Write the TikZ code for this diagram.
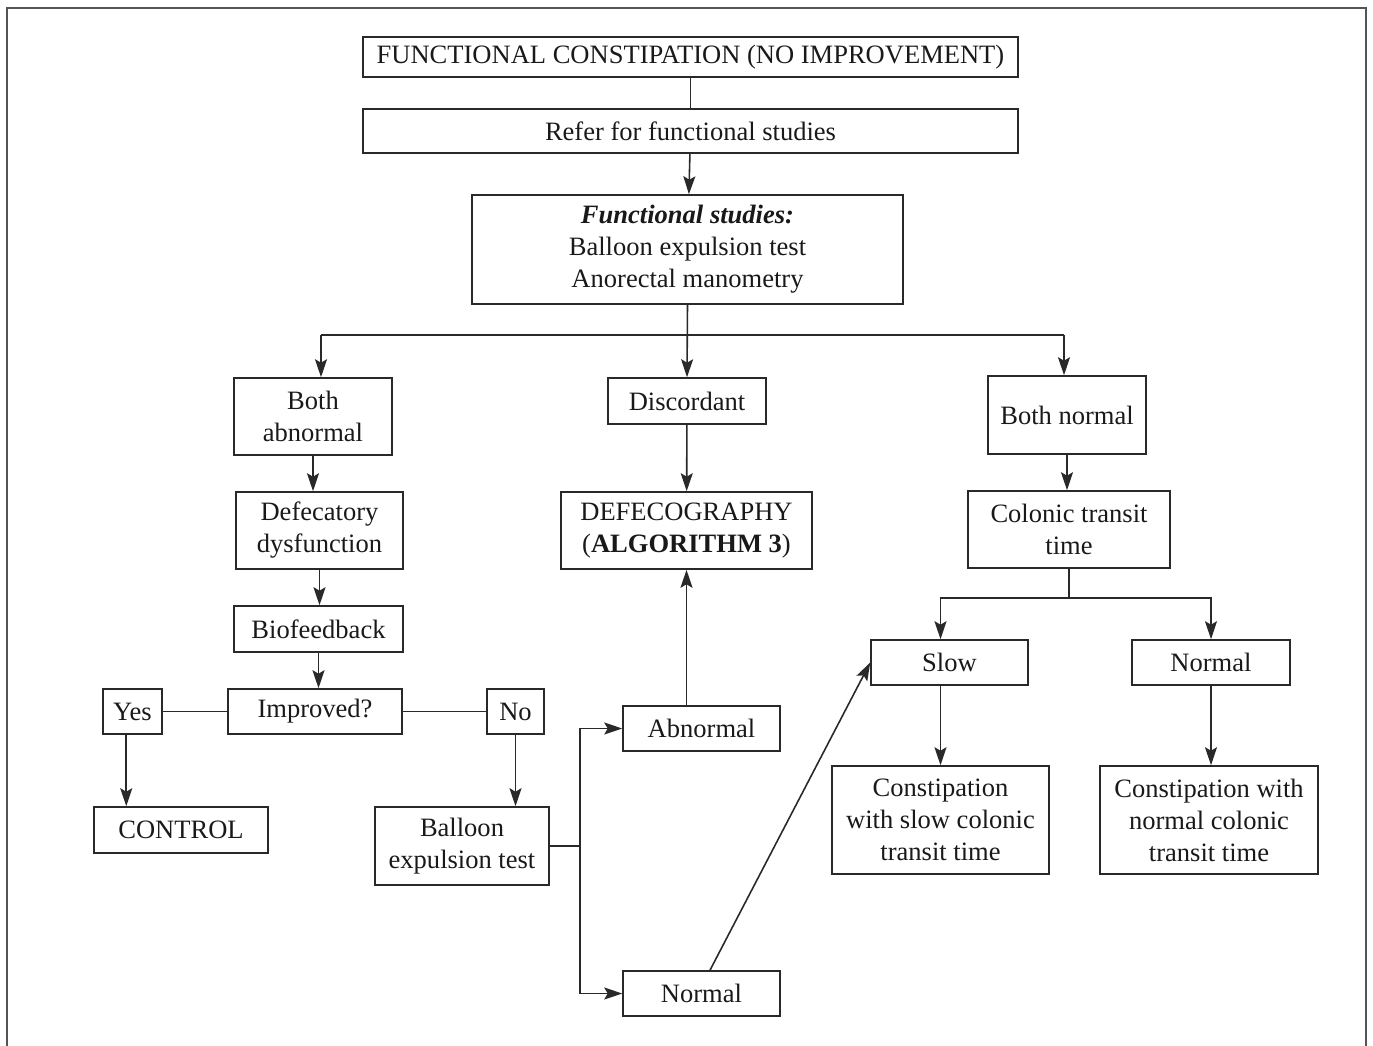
\documentclass[tikz,border=0pt]{standalone}
\usepackage{fontspec}
\setmainfont{Liberation Serif}
\usetikzlibrary{arrows.meta,positioning}

\begin{document}
\begin{tikzpicture}[x=0.02cm,y=-0.02cm,
  box/.style={draw=cl,line width=0.9pt,rectangle,inner sep=0pt,align=center,text=ct,font=\fontsize{15.1}{18.2}\selectfont},
  link/.style={draw=cl,line width=0.9pt},
  arr/.style={link,-{Stealth[length=0.36cm,width=0.24cm,inset=0.07cm]}}]
%
\useasboundingbox (0,0) rectangle (1373,1045);
%
\definecolor{cl}{rgb}{0.16,0.16,0.16}
\definecolor{ct}{rgb}{0.1,0.1,0.1}
\definecolor{cf}{rgb}{0.33,0.33,0.33}
%
\draw[draw=cf,line width=1pt] (7,1060) -- (7,8) -- (1366,8) -- (1366,1060);
%
\node[box,minimum width=13.1cm,minimum height=0.8cm] (top) at (690.5,57) {FUNCTIONAL CONSTIPATION (NO IMPROVEMENT)};
\node[box,minimum width=13.1cm,minimum height=0.88cm] (refer) at (690.5,131) {Refer for functional studies};
\node[box,minimum width=8.62cm,minimum height=2.18cm] (fstud) at (687.5,249.5) {\textbf{\textit{Functional studies:}}\\Balloon expulsion test\\Anorectal manometry};
%
\node[box,minimum width=3.16cm,minimum height=1.54cm] (bothab) at (313,416.5) {Both\\abnormal};
\node[box,minimum width=3.16cm,minimum height=0.92cm] (discord) at (687,401) {Discordant};
\node[box,minimum width=3.16cm,minimum height=1.56cm] (bothnorm) at (1067,415) {Both normal};
%
\node[box,minimum width=3.34cm,minimum height=1.54cm] (defec) at (319.5,530.5) {Defecatory\\dysfunction};
\node[box,minimum width=5.02cm,minimum height=1.54cm] (defgr) at (686.5,530.5) {DEFECOGRAPHY\\(\textbf{ALGORITHM 3})};
\node[box,minimum width=4.04cm,minimum height=1.54cm] (colonic) at (1069,529.5) {Colonic transit\\time};
%
\node[box,minimum width=3.38cm,minimum height=0.92cm] (biofeed) at (318.5,629) {Biofeedback};
\node[box,minimum width=3.14cm,minimum height=0.9cm] (slow) at (949.5,662.5) {Slow};
\node[box,minimum width=3.16cm,minimum height=0.9cm] (normr) at (1211,662.5) {Normal};
%
\node[box,minimum width=3.48cm,minimum height=0.9cm] (improved) at (315,711.5) {Improved?};
\node[box,minimum width=1.18cm,minimum height=0.9cm] (yes) at (132.5,711.5) {Yes};
\node[box,minimum width=1.14cm,minimum height=0.9cm] (no) at (515.5,711.5) {No};
\node[box,minimum width=3.14cm,minimum height=0.9cm] (abnormal) at (701.5,728.5) {Abnormal};
%
\node[box,minimum width=3.48cm,minimum height=0.92cm] (control) at (181,830) {CONTROL};
\node[box,minimum width=3.48cm,minimum height=1.56cm] (balloon) at (462,846) {Balloon\\expulsion test};
\node[box,minimum width=4.34cm,minimum height=2.16cm] (cslow) at (940.5,820) {Constipation\\with slow colonic\\transit time};
\node[box,minimum width=4.36cm,minimum height=2.16cm] (cnorm) at (1209,820) {Constipation with\\normal colonic\\transit time};
\node[box,minimum width=3.14cm,minimum height=0.9cm] (normb) at (701.5,993.5) {Normal};
%
\coordinate (busL) at (321,335);
\coordinate (busR) at (1064,335);
\coordinate (split) at (580,846);
\coordinate (cbus) at (1069,598);
%
\draw[link] (top) -- (refer);
\draw[arr] (refer) -- (fstud);
\draw[link] (busL) -- (busR);
\draw[arr] (fstud.south) -- (discord.north);
\draw[arr] (busL) -- (busL |- bothab.north);
\draw[arr] (busR) -- (busR |- bothnorm.north);
%
\draw[arr] (bothab.south) -- (bothab.south |- defec.north);
\draw[arr] (defec.south) -- (defec.south |- biofeed.north);
\draw[arr] (biofeed.south) -- (biofeed.south |- improved.north);
\draw[link] (yes) -- (improved);
\draw[link] (improved) -- (no);
\draw[arr] (yes.-105) -- (yes.-105 |- control.north);
\draw[arr] (no.south) -- (no.south |- balloon.north);
%
\draw[link] (balloon.east) -- (split);
\draw[arr] (split) |- (abnormal.west);
\draw[arr] (split) |- (normb.west);
\draw[arr] (defgr.south |- abnormal.north) -- (defgr.south);
\draw[arr] (discord) -- (defgr);
\draw[arr] (normb.70) -- (slow.west);
%
\draw[arr] (bothnorm.south) -- (bothnorm.south |- colonic.north);
\draw[link] (colonic.south) -- (cbus);
\draw[arr] (cbus) -| (cslow.north |- slow.north);
\draw[arr] (cbus) -| (normr.north);
\draw[arr] (slow.south -| cslow.north) -- (cslow.north);
\draw[arr] (normr.south) -- (normr.south |- cnorm.north);
%
\end{tikzpicture}
\end{document}
